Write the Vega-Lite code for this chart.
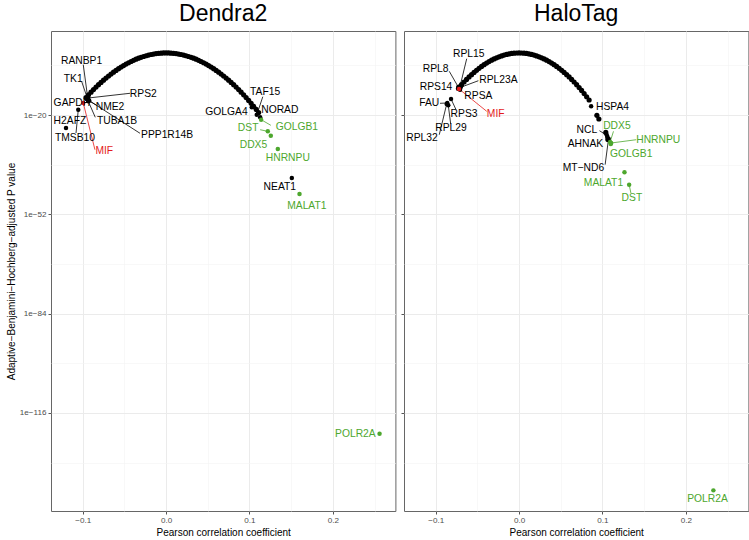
{
  "$schema": "https://vega.github.io/schema/vega-lite/v6.json",
  "padding": {"left": 5, "top": 2, "right": 1, "bottom": 0},
  "background": "white",
  "config": {
    "view": {"stroke": "#666666", "strokeWidth": 1},
    "font": "Liberation Sans",
    "axis": {"domain": false, "labelFont": "Liberation Sans", "labelFontSize": 8.1, "labelColor": "#4D4D4D", "titleFont": "Liberation Sans", "titleFontSize": 10, "titleFontWeight": "normal", "titleColor": "#000000", "tickColor": "#555555", "tickSize": 3, "labelPadding": 2, "titlePadding": 3},
    "concat": {"spacing": 4}
  },
  "datasets": {
    "arc": [
      {"panel":"Dendra2","r":-0.096,"log10p":-14.38},{"panel":"Dendra2","r":-0.093,"log10p":-13.49},{"panel":"Dendra2","r":-0.090,"log10p":-12.64},{"panel":"Dendra2","r":-0.087,"log10p":-11.81},{"panel":"Dendra2","r":-0.084,"log10p":-11.01},{"panel":"Dendra2","r":-0.081,"log10p":-10.24},{"panel":"Dendra2","r":-0.078,"log10p":-9.49},{"panel":"Dendra2","r":-0.075,"log10p":-8.78},{"panel":"Dendra2","r":-0.072,"log10p":-8.09},{"panel":"Dendra2","r":-0.069,"log10p":-7.43},{"panel":"Dendra2","r":-0.066,"log10p":-6.80},{"panel":"Dendra2","r":-0.063,"log10p":-6.19},{"panel":"Dendra2","r":-0.060,"log10p":-5.62},{"panel":"Dendra2","r":-0.057,"log10p":-5.07},{"panel":"Dendra2","r":-0.054,"log10p":-4.55},{"panel":"Dendra2","r":-0.051,"log10p":-4.06},{"panel":"Dendra2","r":-0.048,"log10p":-3.59},{"panel":"Dendra2","r":-0.045,"log10p":-3.16},{"panel":"Dendra2","r":-0.042,"log10p":-2.75},{"panel":"Dendra2","r":-0.039,"log10p":-2.37},{"panel":"Dendra2","r":-0.036,"log10p":-2.02},{"panel":"Dendra2","r":-0.033,"log10p":-1.70},{"panel":"Dendra2","r":-0.030,"log10p":-1.40},{"panel":"Dendra2","r":-0.027,"log10p":-1.14},{"panel":"Dendra2","r":-0.024,"log10p":-0.90},{"panel":"Dendra2","r":-0.021,"log10p":-0.69},{"panel":"Dendra2","r":-0.018,"log10p":-0.51},{"panel":"Dendra2","r":-0.015,"log10p":-0.35},{"panel":"Dendra2","r":-0.012,"log10p":-0.22},{"panel":"Dendra2","r":-0.009,"log10p":-0.13},{"panel":"Dendra2","r":-0.006,"log10p":-0.06},{"panel":"Dendra2","r":-0.003,"log10p":-0.01},{"panel":"Dendra2","r":0.000,"log10p":0.0},{"panel":"Dendra2","r":0.003,"log10p":-0.01},{"panel":"Dendra2","r":0.006,"log10p":-0.06},{"panel":"Dendra2","r":0.009,"log10p":-0.13},{"panel":"Dendra2","r":0.012,"log10p":-0.22},{"panel":"Dendra2","r":0.015,"log10p":-0.35},{"panel":"Dendra2","r":0.018,"log10p":-0.51},{"panel":"Dendra2","r":0.021,"log10p":-0.69},{"panel":"Dendra2","r":0.024,"log10p":-0.90},{"panel":"Dendra2","r":0.027,"log10p":-1.14},{"panel":"Dendra2","r":0.030,"log10p":-1.40},{"panel":"Dendra2","r":0.033,"log10p":-1.70},{"panel":"Dendra2","r":0.036,"log10p":-2.02},{"panel":"Dendra2","r":0.039,"log10p":-2.37},{"panel":"Dendra2","r":0.042,"log10p":-2.75},{"panel":"Dendra2","r":0.045,"log10p":-3.16},{"panel":"Dendra2","r":0.048,"log10p":-3.59},{"panel":"Dendra2","r":0.051,"log10p":-4.06},{"panel":"Dendra2","r":0.054,"log10p":-4.55},{"panel":"Dendra2","r":0.057,"log10p":-5.07},{"panel":"Dendra2","r":0.060,"log10p":-5.62},{"panel":"Dendra2","r":0.063,"log10p":-6.19},{"panel":"Dendra2","r":0.066,"log10p":-6.80},{"panel":"Dendra2","r":0.069,"log10p":-7.43},{"panel":"Dendra2","r":0.072,"log10p":-8.09},{"panel":"Dendra2","r":0.075,"log10p":-8.78},{"panel":"Dendra2","r":0.078,"log10p":-9.49},{"panel":"Dendra2","r":0.081,"log10p":-10.24},{"panel":"Dendra2","r":0.084,"log10p":-11.01},{"panel":"Dendra2","r":0.087,"log10p":-11.81},{"panel":"Dendra2","r":0.090,"log10p":-12.64},{"panel":"Dendra2","r":0.093,"log10p":-13.49},{"panel":"Dendra2","r":0.096,"log10p":-14.38},{"panel":"Dendra2","r":0.099,"log10p":-15.29},{"panel":"Dendra2","r":0.102,"log10p":-16.23},{"panel":"Dendra2","r":0.105,"log10p":-17.20},{"panel":"Dendra2","r":0.108,"log10p":-18.20},{"panel":"Dendra2","r":0.111,"log10p":-19.22},
      {"panel":"HaloTag","r":-0.072,"log10p":-11.15},{"panel":"HaloTag","r":-0.069,"log10p":-10.24},{"panel":"HaloTag","r":-0.066,"log10p":-9.37},{"panel":"HaloTag","r":-0.063,"log10p":-8.53},{"panel":"HaloTag","r":-0.060,"log10p":-7.74},{"panel":"HaloTag","r":-0.057,"log10p":-6.99},{"panel":"HaloTag","r":-0.054,"log10p":-6.27},{"panel":"HaloTag","r":-0.051,"log10p":-5.59},{"panel":"HaloTag","r":-0.048,"log10p":-4.95},{"panel":"HaloTag","r":-0.045,"log10p":-4.35},{"panel":"HaloTag","r":-0.042,"log10p":-3.79},{"panel":"HaloTag","r":-0.039,"log10p":-3.27},{"panel":"HaloTag","r":-0.036,"log10p":-2.79},{"panel":"HaloTag","r":-0.033,"log10p":-2.34},{"panel":"HaloTag","r":-0.030,"log10p":-1.94},{"panel":"HaloTag","r":-0.027,"log10p":-1.57},{"panel":"HaloTag","r":-0.024,"log10p":-1.24},{"panel":"HaloTag","r":-0.021,"log10p":-0.95},{"panel":"HaloTag","r":-0.018,"log10p":-0.70},{"panel":"HaloTag","r":-0.015,"log10p":-0.48},{"panel":"HaloTag","r":-0.012,"log10p":-0.31},{"panel":"HaloTag","r":-0.009,"log10p":-0.17},{"panel":"HaloTag","r":-0.006,"log10p":-0.08},{"panel":"HaloTag","r":-0.003,"log10p":-0.02},{"panel":"HaloTag","r":0.000,"log10p":0.0},{"panel":"HaloTag","r":0.003,"log10p":-0.02},{"panel":"HaloTag","r":0.006,"log10p":-0.08},{"panel":"HaloTag","r":0.009,"log10p":-0.17},{"panel":"HaloTag","r":0.012,"log10p":-0.31},{"panel":"HaloTag","r":0.015,"log10p":-0.48},{"panel":"HaloTag","r":0.018,"log10p":-0.70},{"panel":"HaloTag","r":0.021,"log10p":-0.95},{"panel":"HaloTag","r":0.024,"log10p":-1.24},{"panel":"HaloTag","r":0.027,"log10p":-1.57},{"panel":"HaloTag","r":0.030,"log10p":-1.94},{"panel":"HaloTag","r":0.033,"log10p":-2.34},{"panel":"HaloTag","r":0.036,"log10p":-2.79},{"panel":"HaloTag","r":0.039,"log10p":-3.27},{"panel":"HaloTag","r":0.042,"log10p":-3.79},{"panel":"HaloTag","r":0.045,"log10p":-4.35},{"panel":"HaloTag","r":0.048,"log10p":-4.95},{"panel":"HaloTag","r":0.051,"log10p":-5.59},{"panel":"HaloTag","r":0.054,"log10p":-6.27},{"panel":"HaloTag","r":0.057,"log10p":-6.99},{"panel":"HaloTag","r":0.060,"log10p":-7.74},{"panel":"HaloTag","r":0.063,"log10p":-8.53},{"panel":"HaloTag","r":0.066,"log10p":-9.37},{"panel":"HaloTag","r":0.069,"log10p":-10.24},{"panel":"HaloTag","r":0.072,"log10p":-11.15},{"panel":"HaloTag","r":0.075,"log10p":-12.09},{"panel":"HaloTag","r":0.078,"log10p":-13.08},{"panel":"HaloTag","r":0.081,"log10p":-14.11},{"panel":"HaloTag","r":0.084,"log10p":-15.17},
      {"panel":"HaloTag","r":0.0933,"log10p":-20.1},{"panel":"HaloTag","r":0.0957,"log10p":-21.29},{"panel":"HaloTag","r":0.104,"log10p":-25.6},{"panel":"HaloTag","r":0.1065,"log10p":-27.9}
    ],
    "genes": [
      {"panel":"Dendra2","gene":"RANBP1","group":"other","r":-0.0941,"log10p":-14.2,"lab_r":-0.1013,"lab_log10p":-2.5,"seg_r":-0.0993,"seg_log10p":-3.79},
      {"panel":"Dendra2","gene":"TK1","group":"other","r":-0.0945,"log10p":-14.52,"lab_r":-0.1113,"lab_log10p":-8.4,"seg_r":-0.1013,"seg_log10p":-9.14},
      {"panel":"Dendra2","gene":"RPS2","group":"other","r":-0.0933,"log10p":-14.52,"lab_r":-0.0273,"lab_log10p":-13.23,"seg_r":-0.0432,"seg_log10p":-13.0},
      {"panel":"Dendra2","gene":"GAPDH","group":"other","r":-0.0953,"log10p":-14.84,"lab_r":-0.1129,"lab_log10p":-16.23,"seg_r":null,"seg_log10p":null},
      {"panel":"Dendra2","gene":"NME2","group":"other","r":-0.0933,"log10p":-15.26,"lab_r":-0.0672,"lab_log10p":-17.52,"seg_r":-0.0833,"seg_log10p":-16.87},
      {"panel":"Dendra2","gene":"TUBA1B","group":"other","r":-0.0933,"log10p":-15.58,"lab_r":-0.0588,"lab_log10p":-21.84,"seg_r":-0.0849,"seg_log10p":-20.74},
      {"panel":"Dendra2","gene":"PPP1R14B","group":"other","r":-0.0921,"log10p":-15.39,"lab_r":0.0012,"lab_log10p":-26.54,"seg_r":-0.0312,"seg_log10p":-25.9},
      {"panel":"Dendra2","gene":"H2AFZ","group":"other","r":-0.120,"log10p":-24.19,"lab_r":-0.1153,"lab_log10p":-22.03,"seg_r":null,"seg_log10p":null},
      {"panel":"Dendra2","gene":"TMSB10","group":"other","r":-0.1053,"log10p":-18.29,"lab_r":-0.1093,"lab_log10p":-27.41,"seg_r":-0.108,"seg_log10p":-25.8},
      {"panel":"Dendra2","gene":"MIF","group":"MIF","r":-0.0993,"log10p":-16.13,"lab_r":-0.0741,"lab_log10p":-31.7,"seg_r":-0.0853,"seg_log10p":-31.18},
      {"panel":"Dendra2","gene":"TAF15","group":"other","r":0.1088,"log10p":-19.9,"lab_r":0.1188,"lab_log10p":-12.59,"seg_r":0.116,"seg_log10p":-14.1},
      {"panel":"Dendra2","gene":"NORAD","group":"other","r":0.1128,"log10p":-20.74,"lab_r":0.1364,"lab_log10p":-18.29,"seg_r":null,"seg_log10p":null},
      {"panel":"Dendra2","gene":"GOLGA4","group":"other","r":0.1028,"log10p":-17.52,"lab_r":0.0724,"lab_log10p":-19.13,"seg_r":null,"seg_log10p":null},
      {"panel":"Dendra2","gene":"GOLGB1","group":"up","r":0.114,"log10p":-21.51,"lab_r":0.1568,"lab_log10p":-23.96,"seg_r":0.1256,"seg_log10p":-23.32},
      {"panel":"Dendra2","gene":"DST","group":"up","r":0.122,"log10p":-25.26,"lab_r":0.0984,"lab_log10p":-24.19,"seg_r":0.1128,"seg_log10p":-24.74},
      {"panel":"Dendra2","gene":"DDX5","group":"up","r":0.1256,"log10p":-26.67,"lab_r":0.1048,"lab_log10p":-29.77,"seg_r":null,"seg_log10p":null},
      {"panel":"Dendra2","gene":"HNRNPU","group":"up","r":0.134,"log10p":-30.96,"lab_r":0.146,"lab_log10p":-33.86,"seg_r":null,"seg_log10p":null},
      {"panel":"Dendra2","gene":"NEAT1","group":"other","r":0.1508,"log10p":-40.3,"lab_r":0.1364,"lab_log10p":-43.2,"seg_r":null,"seg_log10p":null},
      {"panel":"Dendra2","gene":"MALAT1","group":"up","r":0.16,"log10p":-45.46,"lab_r":0.1688,"lab_log10p":-49.23,"seg_r":null,"seg_log10p":null},
      {"panel":"Dendra2","gene":"POLR2A","group":"up","r":0.256,"log10p":-122.7,"lab_r":0.227,"lab_log10p":-122.7,"seg_r":null,"seg_log10p":null},
      {"panel":"HaloTag","gene":"RPL15","group":"other","r":-0.0708,"log10p":-10.75,"lab_r":-0.0604,"lab_log10p":-0.34,"seg_r":-0.0628,"seg_log10p":-1.86},
      {"panel":"HaloTag","gene":"RPL8","group":"other","r":-0.0729,"log10p":-10.98,"lab_r":-0.1,"lab_log10p":-5.18,"seg_r":-0.0837,"seg_log10p":-5.92},
      {"panel":"HaloTag","gene":"RPL23A","group":"other","r":-0.07,"log10p":-11.07,"lab_r":-0.0248,"lab_log10p":-8.62,"seg_r":-0.0488,"seg_log10p":-8.95},
      {"panel":"HaloTag","gene":"RPS14","group":"other","r":-0.0732,"log10p":-11.52,"lab_r":-0.0996,"lab_log10p":-10.98,"seg_r":null,"seg_log10p":null},
      {"panel":"HaloTag","gene":"RPSA","group":"other","r":-0.0708,"log10p":-11.85,"lab_r":-0.0488,"lab_log10p":-13.97,"seg_r":null,"seg_log10p":null},
      {"panel":"HaloTag","gene":"FAU","group":"other","r":-0.0861,"log10p":-16.13,"lab_r":-0.1077,"lab_log10p":-16.23,"seg_r":-0.0948,"seg_log10p":-16.23},
      {"panel":"HaloTag","gene":"RPS3","group":"other","r":-0.0816,"log10p":-14.84,"lab_r":-0.066,"lab_log10p":-19.58,"seg_r":-0.0756,"seg_log10p":-18.29},
      {"panel":"HaloTag","gene":"RPL29","group":"other","r":-0.0849,"log10p":-16.87,"lab_r":-0.0816,"lab_log10p":-24.19,"seg_r":-0.082,"seg_log10p":-22.9},
      {"panel":"HaloTag","gene":"RPL32","group":"other","r":-0.0868,"log10p":-16.45,"lab_r":-0.1164,"lab_log10p":-27.41,"seg_r":-0.0957,"seg_log10p":-26.35},
      {"panel":"HaloTag","gene":"HSPA4","group":"other","r":0.0864,"log10p":-17.2,"lab_r":0.112,"lab_log10p":-17.42,"seg_r":null,"seg_log10p":null},
      {"panel":"HaloTag","gene":"NCL","group":"other","r":0.1053,"log10p":-26.54,"lab_r":0.0813,"lab_log10p":-24.74,"seg_r":0.0964,"seg_log10p":-25.06},
      {"panel":"HaloTag","gene":"AHNAK","group":"other","r":0.106,"log10p":-27.19,"lab_r":0.0796,"lab_log10p":-29.25,"seg_r":null,"seg_log10p":null},
      {"panel":"HaloTag","gene":"MT−ND6","group":"other","r":0.1073,"log10p":-27.64,"lab_r":0.0772,"lab_log10p":-37.08,"seg_r":0.1032,"seg_log10p":-36.0},
      {"panel":"HaloTag","gene":"DDX5","group":"up","r":0.1092,"log10p":-28.7,"lab_r":0.1173,"lab_log10p":-23.64,"seg_r":0.1132,"seg_log10p":-25.25},
      {"panel":"HaloTag","gene":"HNRNPU","group":"up","r":0.1104,"log10p":-29.02,"lab_r":0.1669,"lab_log10p":-27.96,"seg_r":0.1405,"seg_log10p":-27.96},
      {"panel":"HaloTag","gene":"GOLGB1","group":"up","r":0.11,"log10p":-29.35,"lab_r":0.1345,"lab_log10p":-32.57,"seg_r":null,"seg_log10p":null},
      {"panel":"HaloTag","gene":"MALAT1","group":"up","r":0.1264,"log10p":-38.47,"lab_r":0.1012,"lab_log10p":-41.91,"seg_r":null,"seg_log10p":null},
      {"panel":"HaloTag","gene":"DST","group":"up","r":0.132,"log10p":-42.46,"lab_r":0.1353,"lab_log10p":-46.75,"seg_r":0.1341,"seg_log10p":-45.14},
      {"panel":"HaloTag","gene":"MIF","group":"MIF","r":-0.072,"log10p":-11.62,"lab_r":-0.028,"lab_log10p":-19.58,"seg_r":-0.0388,"seg_log10p":-18.81},
      {"panel":"HaloTag","gene":"POLR2A","group":"up","r":0.233,"log10p":-140.95,"lab_r":0.226,"lab_log10p":-143.75,"seg_r":null,"seg_log10p":null}
    ]
  },
  "hconcat": [
    {
      "width": 344.4, "height": 480,
      "title": {"text": "Dendra2", "fontSize": 23, "fontWeight": "normal", "font": "Liberation Sans", "color": "#000000", "anchor": "middle", "offset": 5},
      "layer": [
        {
          "data": {"name": "arc"},
          "transform": [{"filter": "datum.panel == 'Dendra2'"}],
          "mark": {"type": "point", "filled": true, "size": 27, "opacity": 1, "color": "#000000"},
          "encoding": {
            "x": {"field": "r", "type": "quantitative", "title": "Pearson correlation coefficient",
              "scale": {"domain": [-0.138, 0.275], "nice": false, "zero": false},
              "axis": {"values": [-0.1, -0.05, 0, 0.05, 0.1, 0.15, 0.2, 0.25],
                "labelExpr": "abs(round(datum.value*20)) % 2 == 0 ? format(datum.value, '.1f') : ''",
                "tickOpacity": {"condition": {"test": "abs(round(datum.value*20)) % 2 == 0", "value": 1}, "value": 0},
                "gridWidth": {"condition": {"test": "abs(round(datum.value*20)) % 2 == 0", "value": 1}, "value": 0.6},
                "gridColor": {"condition": {"test": "abs(round(datum.value*20)) % 2 == 0", "value": "#EBEBEB"}, "value": "#F3F3F3"}}},
            "y": {"field": "log10p", "type": "quantitative", "title": "Adaptive−Benjamini−Hochberg−adjusted P value",
              "scale": {"domain": [-147.6, 7.07], "nice": false, "zero": false},
              "axis": {"values": [-132, -116, -100, -84, -68, -52, -36, -20, -4],
                "labelExpr": "(datum.value + 20) % 32 == 0 ? '1e−' + abs(datum.value) : ''",
                "tickOpacity": {"condition": {"test": "(datum.value + 20) % 32 == 0", "value": 1}, "value": 0},
                "gridWidth": {"condition": {"test": "(datum.value + 20) % 32 == 0", "value": 1}, "value": 0.6},
                "gridColor": {"condition": {"test": "(datum.value + 20) % 32 == 0", "value": "#EBEBEB"}, "value": "#F3F3F3"}}}
          }
        },
        {
          "data": {"name": "genes"},
          "transform": [{"filter": "datum.panel == 'Dendra2' && datum.seg_r != null"}],
          "mark": {"type": "rule", "strokeWidth": 0.8},
          "encoding": {
            "x": {"field": "r", "type": "quantitative", "title": "Pearson correlation coefficient"},
            "y": {"field": "log10p", "type": "quantitative", "title": "Adaptive−Benjamini−Hochberg−adjusted P value"},
            "x2": {"field": "seg_r"},
            "y2": {"field": "seg_log10p"},
            "color": {"field": "group", "type": "nominal", "scale": {"domain": ["other", "up", "MIF"], "range": ["#000000", "#4DA72E", "#E41A1C"]}, "legend": null}
          }
        },
        {
          "data": {"name": "genes"},
          "transform": [{"filter": "datum.panel == 'Dendra2'"}],
          "mark": {"type": "point", "filled": true, "size": 20, "opacity": 1},
          "encoding": {
            "x": {"field": "r", "type": "quantitative", "title": "Pearson correlation coefficient"},
            "y": {"field": "log10p", "type": "quantitative", "title": "Adaptive−Benjamini−Hochberg−adjusted P value"},
            "color": {"field": "group", "type": "nominal", "scale": {"domain": ["other", "up", "MIF"], "range": ["#000000", "#4DA72E", "#E41A1C"]}, "legend": null}
          }
        },
        {
          "data": {"name": "genes"},
          "transform": [{"filter": "datum.panel == 'Dendra2'"}],
          "mark": {"type": "text", "fontSize": 10.3, "font": "Liberation Sans", "align": "center", "baseline": "middle"},
          "encoding": {
            "x": {"field": "lab_r", "type": "quantitative", "title": "Pearson correlation coefficient"},
            "y": {"field": "lab_log10p", "type": "quantitative", "title": "Adaptive−Benjamini−Hochberg−adjusted P value"},
            "text": {"field": "gene"},
            "color": {"field": "group", "type": "nominal", "scale": {"domain": ["other", "up", "MIF"], "range": ["#000000", "#4DA72E", "#E41A1C"]}, "legend": null}
          }
        },
        {
          "mark": {"type": "rule", "strokeDash": [4, 3], "color": "#333333", "strokeWidth": 0.9},
          "encoding": {"y": {"datum": -1.301, "type": "quantitative"}}
        }
      ]
    },
    {
      "width": 344.4, "height": 480,
      "title": {"text": "HaloTag", "fontSize": 23, "fontWeight": "normal", "font": "Liberation Sans", "color": "#000000", "anchor": "middle", "offset": 5},
      "layer": [
        {
          "data": {"name": "arc"},
          "transform": [{"filter": "datum.panel == 'HaloTag'"}],
          "mark": {"type": "point", "filled": true, "size": 27, "opacity": 1, "color": "#000000"},
          "encoding": {
            "x": {"field": "r", "type": "quantitative", "title": "Pearson correlation coefficient",
              "scale": {"domain": [-0.138, 0.275], "nice": false, "zero": false},
              "axis": {"values": [-0.1, -0.05, 0, 0.05, 0.1, 0.15, 0.2, 0.25],
                "labelExpr": "abs(round(datum.value*20)) % 2 == 0 ? format(datum.value, '.1f') : ''",
                "tickOpacity": {"condition": {"test": "abs(round(datum.value*20)) % 2 == 0", "value": 1}, "value": 0},
                "gridWidth": {"condition": {"test": "abs(round(datum.value*20)) % 2 == 0", "value": 1}, "value": 0.6},
                "gridColor": {"condition": {"test": "abs(round(datum.value*20)) % 2 == 0", "value": "#EBEBEB"}, "value": "#F3F3F3"}}},
            "y": {"field": "log10p", "type": "quantitative", "title": null,
              "scale": {"domain": [-147.6, 7.07], "nice": false, "zero": false},
              "axis": {"values": [-132, -116, -100, -84, -68, -52, -36, -20, -4], "labels": false, "title": null,
                "tickOpacity": {"condition": {"test": "(datum.value + 20) % 32 == 0", "value": 1}, "value": 0},
                "gridWidth": {"condition": {"test": "(datum.value + 20) % 32 == 0", "value": 1}, "value": 0.6},
                "gridColor": {"condition": {"test": "(datum.value + 20) % 32 == 0", "value": "#EBEBEB"}, "value": "#F3F3F3"}}}
          }
        },
        {
          "data": {"name": "genes"},
          "transform": [{"filter": "datum.panel == 'HaloTag' && datum.seg_r != null"}],
          "mark": {"type": "rule", "strokeWidth": 0.8},
          "encoding": {
            "x": {"field": "r", "type": "quantitative", "title": "Pearson correlation coefficient"},
            "y": {"field": "log10p", "type": "quantitative", "title": null},
            "x2": {"field": "seg_r"},
            "y2": {"field": "seg_log10p"},
            "color": {"field": "group", "type": "nominal", "scale": {"domain": ["other", "up", "MIF"], "range": ["#000000", "#4DA72E", "#E41A1C"]}, "legend": null}
          }
        },
        {
          "data": {"name": "genes"},
          "transform": [{"filter": "datum.panel == 'HaloTag'"}],
          "mark": {"type": "point", "filled": true, "size": 20, "opacity": 1},
          "encoding": {
            "x": {"field": "r", "type": "quantitative", "title": "Pearson correlation coefficient"},
            "y": {"field": "log10p", "type": "quantitative", "title": null},
            "color": {"field": "group", "type": "nominal", "scale": {"domain": ["other", "up", "MIF"], "range": ["#000000", "#4DA72E", "#E41A1C"]}, "legend": null}
          }
        },
        {
          "data": {"name": "genes"},
          "transform": [{"filter": "datum.panel == 'HaloTag'"}],
          "mark": {"type": "text", "fontSize": 10.3, "font": "Liberation Sans", "align": "center", "baseline": "middle"},
          "encoding": {
            "x": {"field": "lab_r", "type": "quantitative", "title": "Pearson correlation coefficient"},
            "y": {"field": "lab_log10p", "type": "quantitative", "title": null},
            "text": {"field": "gene"},
            "color": {"field": "group", "type": "nominal", "scale": {"domain": ["other", "up", "MIF"], "range": ["#000000", "#4DA72E", "#E41A1C"]}, "legend": null}
          }
        },
        {
          "mark": {"type": "rule", "strokeDash": [4, 3], "color": "#333333", "strokeWidth": 0.9},
          "encoding": {"y": {"datum": -1.301, "type": "quantitative"}}
        }
      ]
    }
  ]
}
